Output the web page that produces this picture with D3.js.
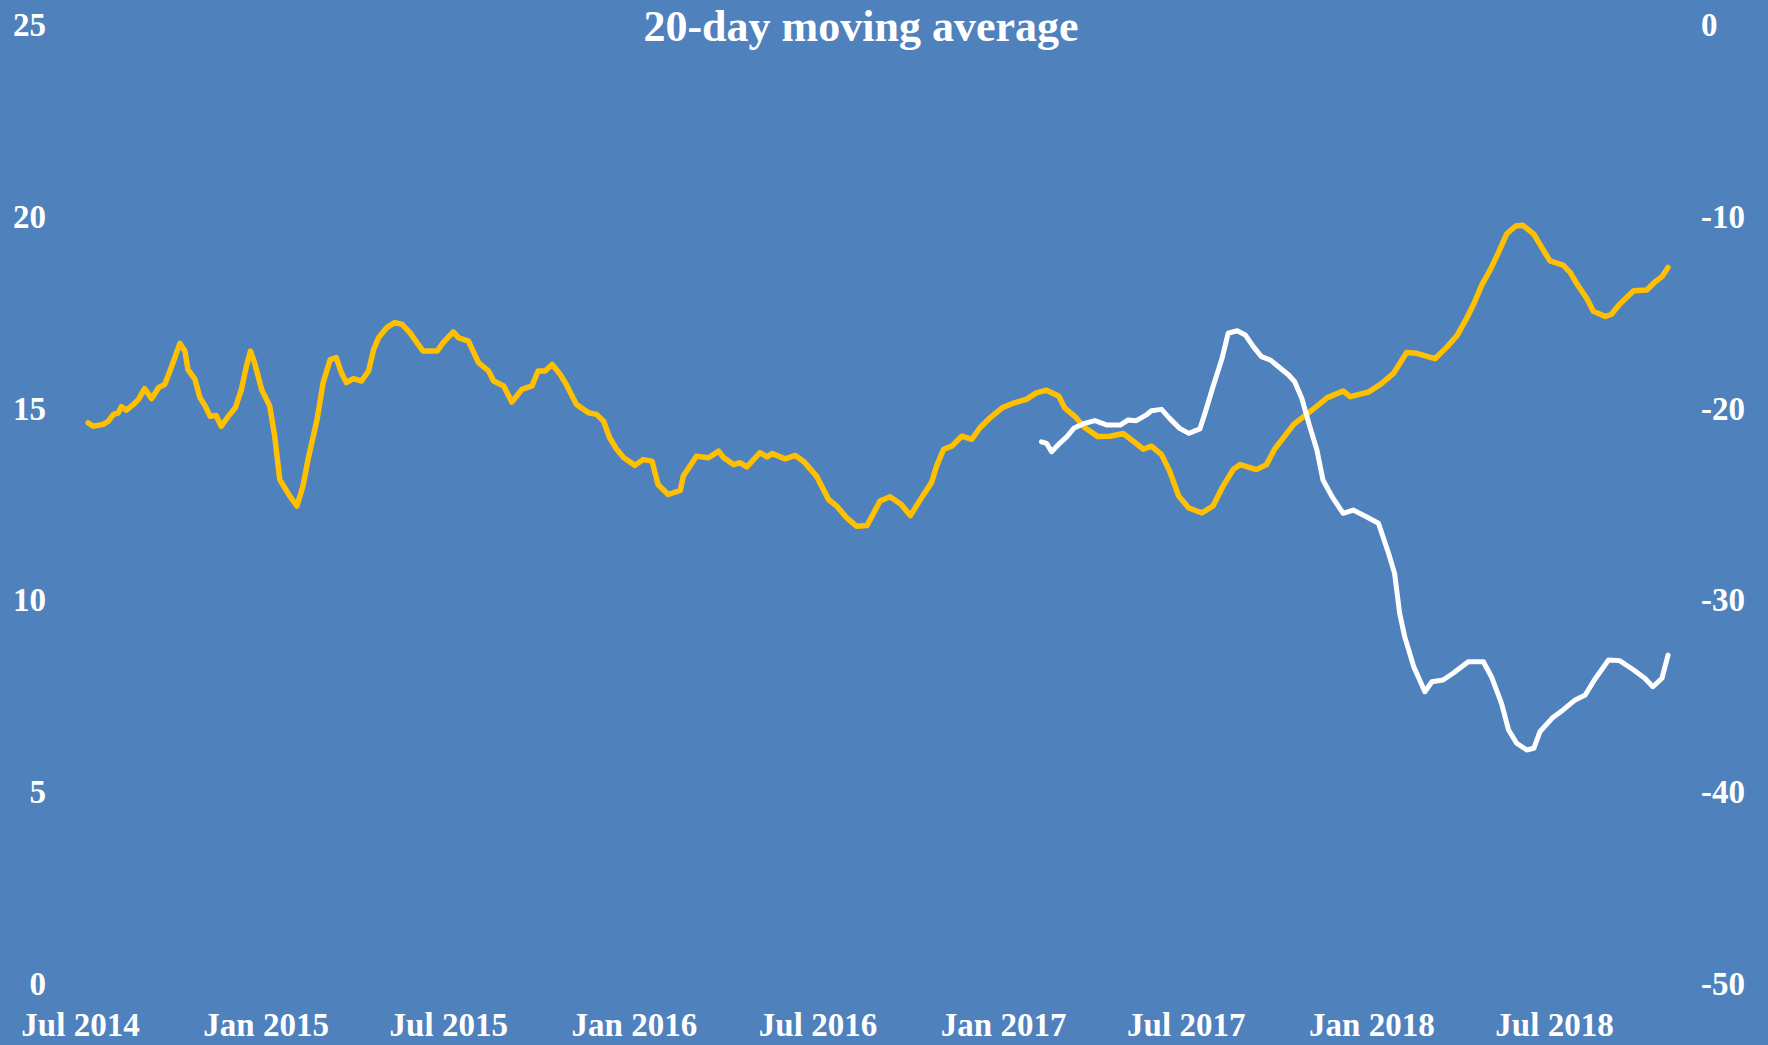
<!DOCTYPE html>
<html><head><meta charset="utf-8">
<script src="https://cdn.jsdelivr.net/npm/d3@7"></script>
<style>html,body{margin:0;padding:0;background:#4F81BD;overflow:hidden}</style>
</head><body><svg id="c" width="1768" height="1045"></svg>
<script>
const title = "20-day moving average";
const xTickDates = ["2014-07-01","2015-01-01","2015-07-01","2016-01-01","2016-07-01","2017-01-01","2017-07-01","2018-01-01","2018-07-01"];
const xTickLabels = ["Jul 2014","Jan 2015","Jul 2015","Jan 2016","Jul 2016","Jan 2017","Jul 2017","Jan 2018","Jul 2018"];
const leftTicks = [0,5,10,15,20,25];
const rightTicks = [0,-10,-20,-30,-40,-50];

const yellowDates = ["2014-07-09","2014-07-14","2014-07-24","2014-07-29","2014-08-03","2014-08-08","2014-08-11","2014-08-16","2014-08-23","2014-08-28","2014-09-03","2014-09-10","2014-09-17","2014-09-23","2014-09-30","2014-10-08","2014-10-13","2014-10-16","2014-10-23","2014-10-28","2014-11-02","2014-11-07","2014-11-13","2014-11-18","2014-11-25","2014-12-02","2014-12-08","2014-12-13","2014-12-17","2014-12-21","2014-12-28","2015-01-05","2015-01-10","2015-01-15","2015-01-25","2015-02-01","2015-02-07","2015-02-12","2015-02-21","2015-02-27","2015-03-06","2015-03-12","2015-03-17","2015-03-22","2015-03-29","2015-04-06","2015-04-13","2015-04-18","2015-04-23","2015-05-01","2015-05-09","2015-05-16","2015-05-24","2015-05-31","2015-06-06","2015-06-20","2015-06-26","2015-07-06","2015-07-11","2015-07-21","2015-07-31","2015-08-10","2015-08-15","2015-08-25","2015-09-02","2015-09-12","2015-09-22","2015-09-28","2015-10-05","2015-10-12","2015-10-20","2015-10-26","2015-11-05","2015-11-17","2015-11-25","2015-12-02","2015-12-08","2015-12-15","2015-12-22","2016-01-02","2016-01-10","2016-01-19","2016-01-25","2016-02-04","2016-02-16","2016-02-19","2016-03-03","2016-03-15","2016-03-25","2016-03-30","2016-04-09","2016-04-15","2016-04-22","2016-05-05","2016-05-12","2016-05-17","2016-05-30","2016-06-09","2016-06-17","2016-06-30","2016-07-12","2016-07-20","2016-07-30","2016-08-09","2016-08-19","2016-09-01","2016-09-11","2016-09-22","2016-10-01","2016-10-11","2016-10-22","2016-10-27","2016-11-03","2016-11-11","2016-11-21","2016-12-01","2016-12-09","2016-12-19","2016-12-31","2017-01-11","2017-01-24","2017-02-03","2017-02-13","2017-02-25","2017-03-03","2017-03-13","2017-03-23","2017-04-05","2017-04-17","2017-04-30","2017-05-10","2017-05-20","2017-05-28","2017-06-07","2017-06-15","2017-06-24","2017-07-04","2017-07-17","2017-07-28","2017-08-07","2017-08-17","2017-08-24","2017-09-09","2017-09-19","2017-09-27","2017-10-16","2017-11-04","2017-11-18","2017-12-04","2017-12-11","2017-12-29","2018-01-10","2018-01-23","2018-02-05","2018-02-15","2018-03-05","2018-03-17","2018-03-27","2018-04-05","2018-04-13","2018-04-20","2018-04-29","2018-05-07","2018-05-15","2018-05-24","2018-05-31","2018-06-11","2018-06-20","2018-06-27","2018-07-10","2018-07-17","2018-07-24","2018-08-03","2018-08-09","2018-08-21","2018-08-27","2018-09-04","2018-09-18","2018-10-01","2018-10-09","2018-10-16","2018-10-22"];
const yellowValues = [14.63,14.54,14.59,14.67,14.85,14.89,15.05,14.96,15.11,15.24,15.52,15.26,15.55,15.63,16.11,16.70,16.50,16.02,15.76,15.28,15.07,14.80,14.82,14.54,14.80,15.02,15.50,16.11,16.50,16.20,15.50,15.07,14.28,13.15,12.72,12.46,12.98,13.67,14.72,15.68,16.28,16.33,15.94,15.68,15.78,15.72,15.98,16.54,16.85,17.11,17.24,17.20,16.98,16.72,16.50,16.50,16.72,17.00,16.85,16.76,16.20,15.98,15.72,15.59,15.17,15.50,15.59,15.98,15.98,16.15,15.89,15.63,15.11,14.89,14.85,14.67,14.24,13.94,13.72,13.52,13.67,13.63,13.02,12.76,12.87,13.24,13.76,13.72,13.89,13.72,13.54,13.59,13.48,13.85,13.74,13.83,13.69,13.78,13.63,13.24,12.63,12.46,12.15,11.93,11.95,12.59,12.70,12.50,12.21,12.63,13.07,13.50,13.94,14.02,14.28,14.20,14.50,14.76,15.02,15.14,15.24,15.41,15.48,15.33,15.02,14.80,14.50,14.27,14.28,14.35,14.15,13.94,14.02,13.80,13.37,12.72,12.41,12.28,12.46,12.98,13.41,13.54,13.41,13.54,13.94,14.59,14.98,15.28,15.46,15.31,15.43,15.63,15.92,16.46,16.44,16.30,16.61,16.91,17.33,17.76,18.20,18.63,19.07,19.55,19.76,19.78,19.55,19.15,18.85,18.74,18.55,18.24,17.85,17.54,17.40,17.46,17.72,18.07,18.09,18.30,18.44,18.68];

const whiteDates = ["2017-02-08","2017-02-13","2017-02-18","2017-02-26","2017-03-05","2017-03-12","2017-03-21","2017-04-02","2017-04-14","2017-04-27","2017-05-05","2017-05-13","2017-05-23","2017-05-28","2017-06-07","2017-06-15","2017-06-25","2017-07-04","2017-07-15","2017-07-20","2017-07-28","2017-08-06","2017-08-12","2017-08-21","2017-08-29","2017-09-06","2017-09-14","2017-09-23","2017-10-01","2017-10-11","2017-10-17","2017-10-24","2017-10-31","2017-11-08","2017-11-14","2017-11-23","2017-12-04","2017-12-14","2017-12-27","2018-01-08","2018-01-18","2018-01-24","2018-01-29","2018-02-03","2018-02-12","2018-02-23","2018-03-02","2018-03-13","2018-03-23","2018-04-07","2018-04-22","2018-04-30","2018-05-10","2018-05-17","2018-05-25","2018-06-04","2018-06-11","2018-06-17","2018-06-29","2018-07-10","2018-07-22","2018-08-01","2018-08-10","2018-08-24","2018-09-04","2018-09-18","2018-09-29","2018-10-07","2018-10-16","2018-10-22"];
const whiteValues = [-21.73,-21.81,-22.25,-21.81,-21.47,-21.03,-20.80,-20.63,-20.86,-20.86,-20.59,-20.63,-20.33,-20.11,-20.04,-20.51,-21.03,-21.29,-21.06,-20.25,-18.86,-17.38,-16.07,-15.94,-16.16,-16.77,-17.29,-17.47,-17.82,-18.25,-18.60,-19.46,-20.77,-22.16,-23.72,-24.59,-25.46,-25.29,-25.64,-25.98,-27.54,-28.59,-30.67,-31.89,-33.46,-34.76,-34.24,-34.15,-33.80,-33.20,-33.20,-33.98,-35.37,-36.76,-37.45,-37.80,-37.71,-36.85,-36.15,-35.71,-35.19,-34.93,-34.15,-33.11,-33.14,-33.63,-34.06,-34.50,-34.06,-32.85];

const parse = d3.timeParse("%Y-%m-%d");
const svg = d3.select("#c");
const FONT = "'Liberation Serif', 'DejaVu Serif', serif";

svg.append("rect").attr("width",1768).attr("height",1045).attr("fill","#4F81BD");

const x = d3.scaleTime().domain([parse("2014-07-01"), parse("2018-07-01")]).range([80, 1554]);
const yL = d3.scaleLinear().domain([0,25]).range([984,25]);
const yR = d3.scaleLinear().domain([-50,0]).range([984,25]);

function styleAxis(g){
  g.select(".domain").remove();
  g.selectAll(".tick line").remove();
  g.selectAll("text").attr("fill","#ffffff").style("font-family",FONT).style("font-size","33px").style("font-weight","bold");
}

svg.append("g").attr("transform","translate(46,0)")
  .call(d3.axisLeft(yL).tickValues(leftTicks).tickSize(0).tickPadding(0).tickFormat(d3.format("d")))
  .call(styleAxis);

svg.append("g").attr("transform","translate(1701,0)")
  .call(d3.axisRight(yR).tickValues(rightTicks).tickSize(0).tickPadding(0).tickFormat(d=>String(d).replace("\u2212","-")))
  .call(styleAxis);

const tickDates = xTickDates.map(parse);
svg.append("g").attr("transform","translate(0,1013)")
  .call(d3.axisBottom(x).tickValues(tickDates).tickSize(0).tickPadding(0).tickFormat((d,i)=>xTickLabels[i]))
  .call(styleAxis);

svg.append("text").attr("x",861).attr("y",41).attr("text-anchor","middle")
  .attr("fill","#ffffff").style("font-family",FONT).style("font-size","44px").style("font-weight","bold")
  .text(title);

const yellowData = yellowDates.map((d,i)=>({date:parse(d), v:yellowValues[i]}));
const whiteData = whiteDates.map((d,i)=>({date:parse(d), v:whiteValues[i]}));

svg.append("path").datum(yellowData)
  .attr("fill","none").attr("stroke","#FFC000").attr("stroke-width",5.5)
  .attr("stroke-linejoin","round").attr("stroke-linecap","round")
  .attr("d", d3.line().x(d=>x(d.date)).y(d=>yL(d.v)));

svg.append("path").datum(whiteData)
  .attr("fill","none").attr("stroke","#FFFFFF").attr("stroke-width",5)
  .attr("stroke-linejoin","round").attr("stroke-linecap","round")
  .attr("d", d3.line().x(d=>x(d.date)).y(d=>yR(d.v)));
</script>
</body></html>
